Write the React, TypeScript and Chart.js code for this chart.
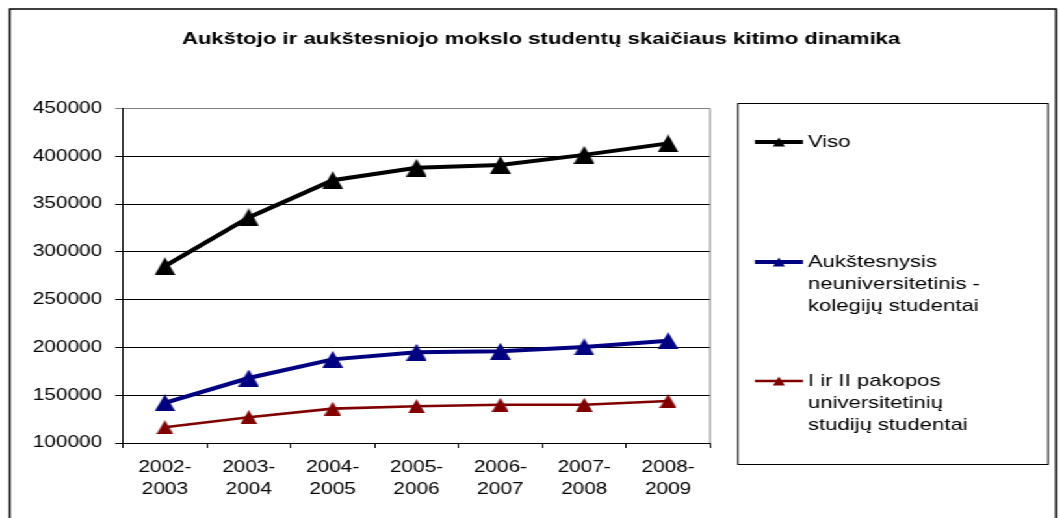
import React, { useEffect, useRef } from 'react';
import { Chart, registerables } from 'chart.js';

Chart.register(...registerables);

// ---- data ----
const chartTitle = 'Aukštojo ir aukštesniojo mokslo studentų skaičiaus kitimo dinamika';
const categories = [
  ['2002-', '2003'],
  ['2003-', '2004'],
  ['2004-', '2005'],
  ['2005-', '2006'],
  ['2006-', '2007'],
  ['2007-', '2008'],
  ['2008-', '2009'],
];
const visoValues = [285000, 336000, 375000, 388000, 391000, 401500, 413500];
const kolegijuValues = [142000, 168000, 187500, 195000, 196000, 200500, 207000];
const universitetuValues = [116500, 127000, 136000, 138500, 140000, 140000, 144000];
const seriesNames = [
  ['Viso'],
  ['Aukštesnysis', 'neuniversitetinis -', 'kolegijų studentai'],
  ['I ir II pakopos', 'universitetinių', 'studijų studentai'],
];
const seriesColors = ['#000000', '#000080', '#800000'];
const yMin = 100000;
const yMax = 450000;
const yStep = 50000;

// ---- layout (inner, unstretched coordinates) ----
const SX = 1.3;
const W = 815;
const H = 518;
const FAMILY = 'Arial, "Liberation Sans", sans-serif';

function triangle(color: string, w: number, h: number) {
  const c = document.createElement('canvas');
  c.width = w;
  c.height = h;
  const g = c.getContext('2d')!;
  g.fillStyle = color;
  g.beginPath();
  g.moveTo(0, h);
  g.lineTo(w / 2, 0);
  g.lineTo(w, h);
  g.closePath();
  g.fill();
  return c;
}

const decor = {
  id: 'decor',
  beforeDraw(chart: any) {
    const ctx = chart.ctx;
    ctx.save();
    ctx.fillStyle = '#ffffff';
    ctx.fillRect(0, 0, W, H);
    ctx.restore();
  },
  afterDraw(chart: any) {
    const ctx = chart.ctx;
    const ca = chart.chartArea;
    ctx.save();
    // outer border
    ctx.strokeStyle = '#000';
    ctx.lineWidth = 1.5;
    ctx.strokeRect(7.5, 9, 812.3 - 7.5, H + 40);
    // plot right border
    ctx.strokeStyle = '#808080';
    ctx.lineWidth = 1;
    ctx.beginPath();
    ctx.moveTo(ca.right, ca.top);
    ctx.lineTo(ca.right, ca.bottom);
    ctx.stroke();
    // title
    ctx.fillStyle = '#000';
    ctx.font = 'bold 17px ' + FAMILY;
    ctx.textAlign = 'center';
    ctx.textBaseline = 'middle';
    ctx.fillText(chartTitle, 416.2, 39);
    // legend box
    ctx.strokeStyle = '#000';
    ctx.lineWidth = 1;
    ctx.strokeRect(567.7, 103.5, 806.2 - 567.7, 464.5 - 103.5);
    const itemY = [142, 262, 381];
    const widths = [4, 4, 2.6];
    ctx.font = '17px ' + FAMILY;
    ctx.textAlign = 'left';
    for (let i = 0; i < seriesNames.length; i++) {
      const y = itemY[i];
      ctx.strokeStyle = seriesColors[i];
      ctx.lineWidth = widths[i];
      ctx.beginPath();
      ctx.moveTo(580.8, y);
      ctx.lineTo(617.7, y);
      ctx.stroke();
      ctx.fillStyle = seriesColors[i];
      ctx.beginPath();
      ctx.moveTo(594.6, y + 4.5);
      ctx.lineTo(599.2, y - 4.5);
      ctx.lineTo(603.8, y + 4.5);
      ctx.closePath();
      ctx.fill();
      ctx.fillStyle = '#000';
      seriesNames[i].forEach((line, k) => {
        ctx.fillText(line, 621.5, y + k * 22.3);
      });
    }
    ctx.restore();
  },
};

export default function App() {
  const ref = useRef<HTMLCanvasElement>(null);

  useEffect(() => {
    if (!ref.current) return;
    const chart = new Chart(ref.current, {
      type: 'line',
      data: {
        labels: categories as any,
        datasets: [
          {
            label: seriesNames[0].join(' '),
            data: visoValues,
            borderColor: seriesColors[0],
            backgroundColor: seriesColors[0],
            borderWidth: 4,
            pointStyle: triangle(seriesColors[0], 16, 18) as any,
            pointRadius: 8,
            tension: 0,
          },
          {
            label: seriesNames[1].join(' '),
            data: kolegijuValues,
            borderColor: seriesColors[1],
            backgroundColor: seriesColors[1],
            borderWidth: 4,
            pointStyle: triangle(seriesColors[1], 16, 17) as any,
            pointRadius: 8,
            tension: 0,
          },
          {
            label: seriesNames[2].join(' '),
            data: universitetuValues,
            borderColor: seriesColors[2],
            backgroundColor: seriesColors[2],
            borderWidth: 2.6,
            pointStyle: triangle(seriesColors[2], 13, 14) as any,
            pointRadius: 7,
            tension: 0,
          },
        ],
      },
      options: {
        responsive: false,
        animation: false,
        events: [],
        layout: { padding: { top: 108.5, right: W - 546.2, left: 0, bottom: 0 } },
        plugins: {
          legend: { display: false },
          title: { display: false },
          tooltip: { enabled: false },
        },
        scales: {
          x: {
            type: 'category',
            offset: true,
            grid: {
              offset: true,
              drawOnChartArea: false,
              drawTicks: true,
              tickLength: 5,
              color: '#000',
            },
            border: { color: '#000', width: 1 },
            ticks: {
              color: '#000',
              font: { family: FAMILY, size: 16, lineHeight: 1.375 },
              padding: 9,
              maxRotation: 0,
              autoSkip: false,
            },
            afterFit(s: any) {
              s.height = 75;
            },
          },
          y: {
            min: yMin,
            max: yMax,
            ticks: {
              stepSize: yStep,
              color: '#000',
              font: { family: FAMILY, size: 16 },
              padding: 10,
              callback: (v: any) => String(v),
            },
            grid: {
              color: (c: any) => (c.tick && c.tick.value === yMax ? '#808080' : '#000'),
              tickLength: 6,
              drawTicks: true,
            },
            border: { color: '#000', width: 1 },
            afterFit(s: any) {
              s.width = 94.6;
            },
          },
        },
      },
      plugins: [decor],
    });
    return () => chart.destroy();
  }, []);

  return (
    <div
      style={{
        position: 'fixed',
        left: 0,
        top: 0,
        width: W,
        height: H,
        transform: `scaleX(${SX})`,
        transformOrigin: '0 0',
        background: '#fff',
      }}
    >
      <canvas ref={ref} width={W} height={H} />
    </div>
  );
}
